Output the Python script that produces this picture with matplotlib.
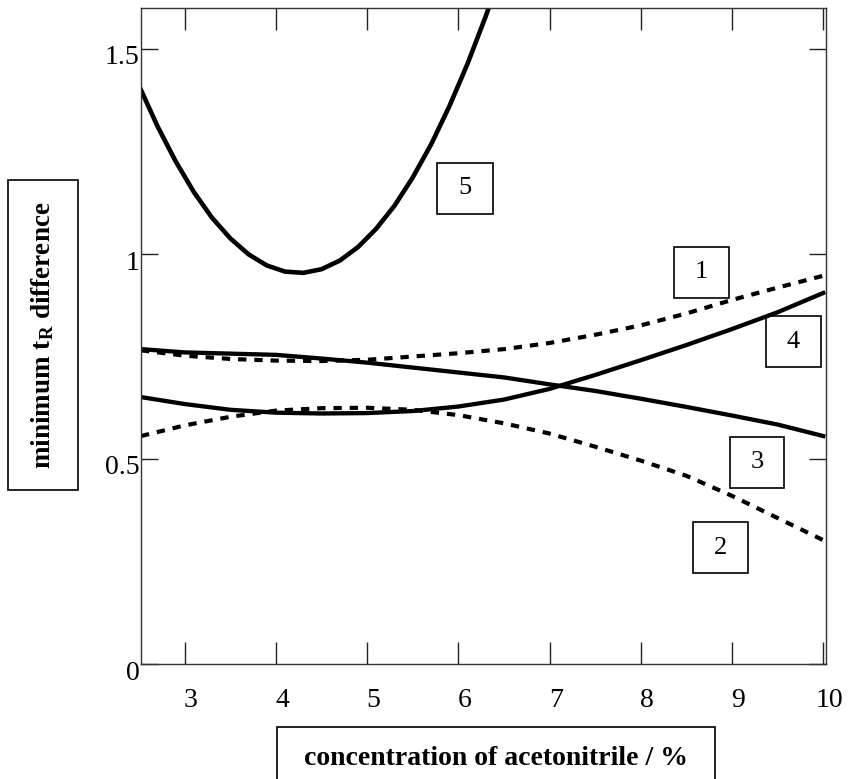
import matplotlib
matplotlib.use('Agg')
import matplotlib.pyplot as plt
from matplotlib.patches import Rectangle
from matplotlib.transforms import ScaledTranslation

plt.rcParams['font.family'] = 'Liberation Serif'
plt.rcParams['mathtext.fontset'] = 'custom'
plt.rcParams['mathtext.rm'] = 'Liberation Serif'
plt.rcParams['mathtext.bf'] = 'Liberation Serif:bold'

# values
conc = [2.52, 3.0, 3.5, 4.0, 4.5, 5.0, 5.5, 6.0, 6.5, 7.0, 7.5, 8.0, 8.5, 9.0, 9.5, 10.0]
diff1 = [0.765, 0.752, 0.744, 0.740, 0.739, 0.742, 0.750, 0.758, 0.768, 0.783, 0.803, 0.826, 0.855, 0.888, 0.918, 0.947]
diff2 = [0.556, 0.582, 0.603, 0.618, 0.624, 0.625, 0.620, 0.607, 0.587, 0.562, 0.530, 0.496, 0.459, 0.410, 0.356, 0.302]
diff3 = [0.768, 0.760, 0.757, 0.754, 0.745, 0.735, 0.723, 0.711, 0.699, 0.682, 0.666, 0.647, 0.627, 0.606, 0.584, 0.556]
diff4 = [0.651, 0.634, 0.620, 0.613, 0.611, 0.612, 0.617, 0.628, 0.645, 0.671, 0.705, 0.741, 0.778, 0.817, 0.858, 0.905]

conc5 = [2.52, 2.7, 2.9, 3.1, 3.3, 3.5, 3.7, 3.9, 4.1, 4.3, 4.5, 4.7, 4.9, 5.1, 5.3, 5.5, 5.7, 5.9, 6.1, 6.3, 6.45]
diff5 = [1.400, 1.312, 1.226, 1.151, 1.088, 1.038, 0.999, 0.972, 0.957, 0.954, 0.963, 0.984, 1.017, 1.062,
         1.118, 1.187, 1.267, 1.360, 1.464, 1.580, 1.675]

xticks = [3, 4, 5, 6, 7, 8, 9, 10]
yticks = [0, 0.5, 1, 1.5]
ytick_labels = ['0', '0.5', '1', '1.5']

W, H = 850, 779
fig = plt.figure(figsize=(W / 100, H / 100), dpi=100)
ax = fig.add_axes([141 / W, 1 - 664 / H, 685 / W, 656 / H])

dash = (0, (2.0, 1.9))
ax.plot(conc5, diff5, color='black', lw=3.3, solid_joinstyle='round')
ax.plot(conc, diff3, color='black', lw=3.1)
ax.plot(conc, diff4, color='black', lw=3.1)
ax.plot(conc, diff1, color='black', lw=3.0, ls=dash, dash_capstyle='butt')
ax.plot(conc, diff2, color='black', lw=3.0, ls=dash, dash_capstyle='butt')

ax.set_xlim(2.52, 10.03)
ax.set_ylim(0, 1.6)
ax.set_xticks(xticks)
ax.set_yticks(yticks)
ax.set_yticklabels(ytick_labels)

for s in ax.spines.values():
    s.set_linewidth(1.0)
    s.set_color('#333333')

ax.tick_params(axis='x', direction='in', length=16, width=1.0, pad=17,
               labelsize=20, top=True, color='#222222')
ax.tick_params(axis='y', direction='in', length=12, width=1.0, pad=1,
               labelsize=20, right=True, color='#222222')

for lab in ax.get_xticklabels():
    lab.set_transform(lab.get_transform() + ScaledTranslation(0.06, 0, fig.dpi_scale_trans))
for lab in ax.get_yticklabels():
    lab.set_transform(lab.get_transform() + ScaledTranslation(0, -0.06, fig.dpi_scale_trans))


def box(x0, y0, x1, y1, text, **kw):
    # box given in pixels of the 850x779 canvas, top-left origin
    r = Rectangle((x0 / W, 1 - y1 / H), (x1 - x0) / W, (y1 - y0) / H,
                  transform=fig.transFigure, fill=False, lw=1.2, ec='black')
    fig.add_artist(r)
    fig.text((x0 + x1) / 2 / W, 1 - (y0 + y1) / 2 / H, text,
             ha='center', va='center', **kw)


box(437, 163, 493, 214, '5', fontsize=19)
box(674, 247, 729, 298, '1', fontsize=19)
box(766, 316, 821, 367, '4', fontsize=19)
box(730, 437, 784, 488, '3', fontsize=19)
box(693, 522, 748, 573, '2', fontsize=19)

box(8, 180, 78, 490, r'minimum $\mathbf{t_R}$ difference',
    fontsize=19.5, fontweight='bold', rotation=90)
box(277, 727, 715, 790, 'concentration of acetonitrile / %',
    fontsize=20, fontweight='bold')

fig.savefig('out.png', dpi=100)
